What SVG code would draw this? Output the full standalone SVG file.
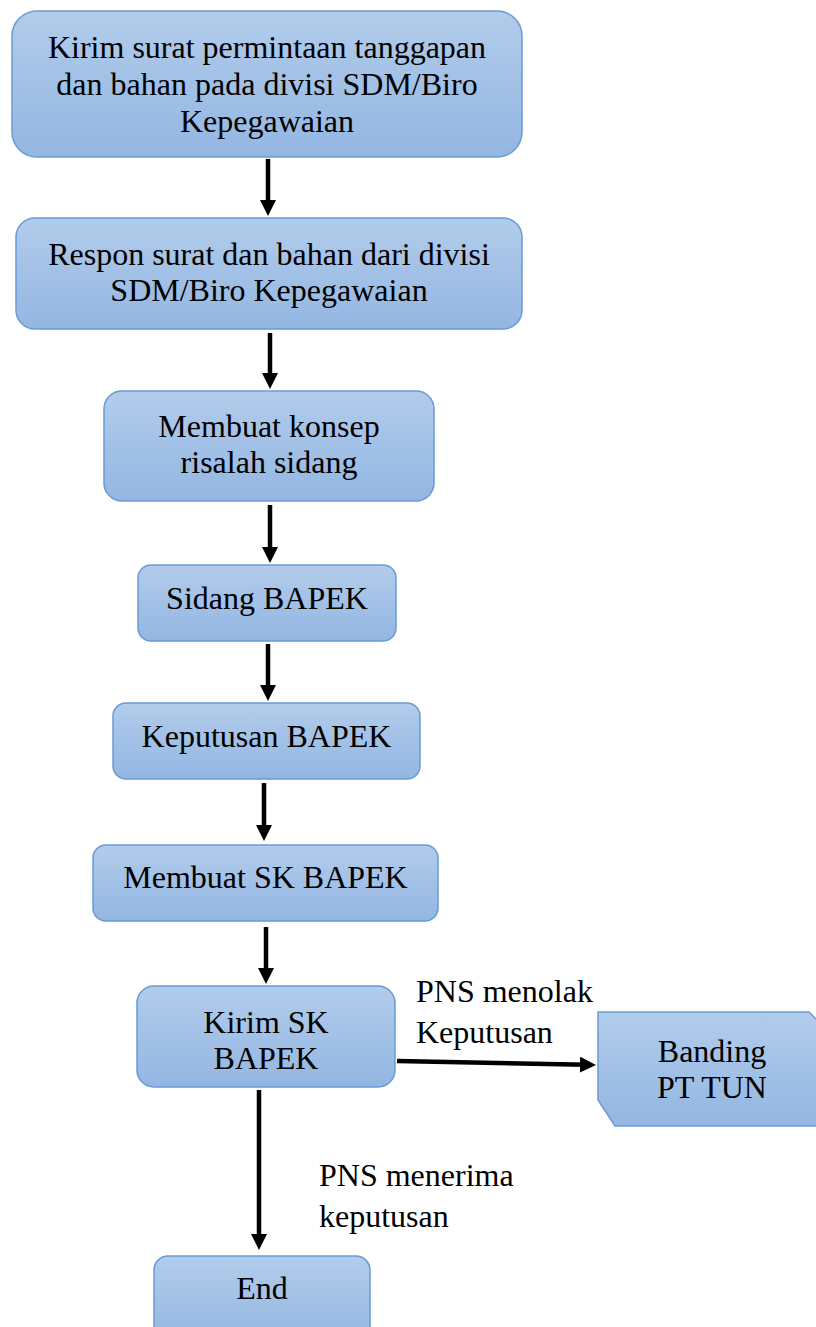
<svg xmlns="http://www.w3.org/2000/svg" width="816" height="1327" viewBox="0 0 816 1327">
  <defs>
    <linearGradient id="boxFill" x1="0" y1="0" x2="0" y2="1">
      <stop offset="0" stop-color="#B2CCEB"/>
      <stop offset="1" stop-color="#93B6E2"/>
    </linearGradient>
    <marker id="head" markerUnits="userSpaceOnUse" markerWidth="16" markerHeight="16" refX="6" refY="8" orient="auto">
      <path d="M0,0 L16,8 L0,16 z" fill="#000"/>
    </marker>
    <style>
      .box { fill: url(#boxFill); stroke: #6A9AD3; stroke-width: 1.5; }
      .lbl { font-family: 'Liberation Serif', serif; font-size: 32px; fill: #000; }
      .mid { text-anchor: middle; }
      .edge { stroke: #000; stroke-width: 4.5; fill: none; marker-end: url(#head); }
    </style>
  </defs>
  <rect width="816" height="1327" fill="#fff"/>

  <!-- process steps -->
  <g id="kirim-surat">
    <rect class="box" x="12" y="11" width="510" height="146" rx="25"/>
    <text class="lbl mid" x="267" y="58">Kirim surat permintaan tanggapan</text>
    <text class="lbl mid" x="267" y="95">dan bahan pada divisi SDM/Biro</text>
    <text class="lbl mid" x="267" y="132">Kepegawaian</text>
  </g>
  <g id="respon-surat">
    <rect class="box" x="16" y="218" width="506" height="111" rx="19"/>
    <text class="lbl mid" x="269" y="265">Respon surat dan bahan dari divisi</text>
    <text class="lbl mid" x="269" y="301">SDM/Biro Kepegawaian</text>
  </g>
  <g id="konsep-risalah">
    <rect class="box" x="104" y="391" width="330" height="110" rx="18"/>
    <text class="lbl mid" x="269" y="437">Membuat konsep</text>
    <text class="lbl mid" x="269" y="473">risalah sidang</text>
  </g>
  <g id="sidang-bapek">
    <rect class="box" x="138" y="565" width="258" height="76" rx="13"/>
    <text class="lbl mid" x="267" y="609">Sidang BAPEK</text>
  </g>
  <g id="keputusan-bapek">
    <rect class="box" x="113" y="703" width="307" height="76" rx="13"/>
    <text class="lbl mid" x="266.5" y="747">Keputusan BAPEK</text>
  </g>
  <g id="membuat-sk">
    <rect class="box" x="93" y="845" width="345" height="76" rx="13"/>
    <text class="lbl mid" x="265.5" y="888">Membuat SK BAPEK</text>
  </g>
  <g id="kirim-sk">
    <rect class="box" x="137" y="986" width="258" height="101" rx="17"/>
    <text class="lbl mid" x="266" y="1033">Kirim SK</text>
    <text class="lbl mid" x="266" y="1069">BAPEK</text>
  </g>
  <g id="banding">
    <polygon class="box" points="598,1012 809,1012 826,1029 826,1126 615,1126 598,1100"/>
    <text class="lbl mid" x="712" y="1062">Banding</text>
    <text class="lbl mid" x="712" y="1098">PT TUN</text>
  </g>
  <g id="end">
    <rect class="box" x="154" y="1256" width="216" height="90" rx="14"/>
    <text class="lbl mid" x="262" y="1299">End</text>
  </g>

  <!-- connectors -->
  <g id="connectors">
    <line class="edge" x1="268" y1="159" x2="268" y2="206"/>
    <line class="edge" x1="270" y1="333" x2="270" y2="379"/>
    <line class="edge" x1="270" y1="505" x2="270" y2="553"/>
    <line class="edge" x1="268" y1="644" x2="268" y2="691"/>
    <line class="edge" x1="264" y1="783" x2="264" y2="831"/>
    <line class="edge" x1="266" y1="927" x2="266" y2="974"/>
    <line class="edge" x1="397" y1="1061" x2="586" y2="1064.8"/>
    <line class="edge" x1="259" y1="1090" x2="259" y2="1240"/>
    <text class="lbl" x="416" y="1002">PNS menolak</text>
    <text class="lbl" x="416" y="1043">Keputusan</text>
    <text class="lbl" x="319" y="1186">PNS menerima</text>
    <text class="lbl" x="319" y="1227">keputusan</text>
  </g>
</svg>
